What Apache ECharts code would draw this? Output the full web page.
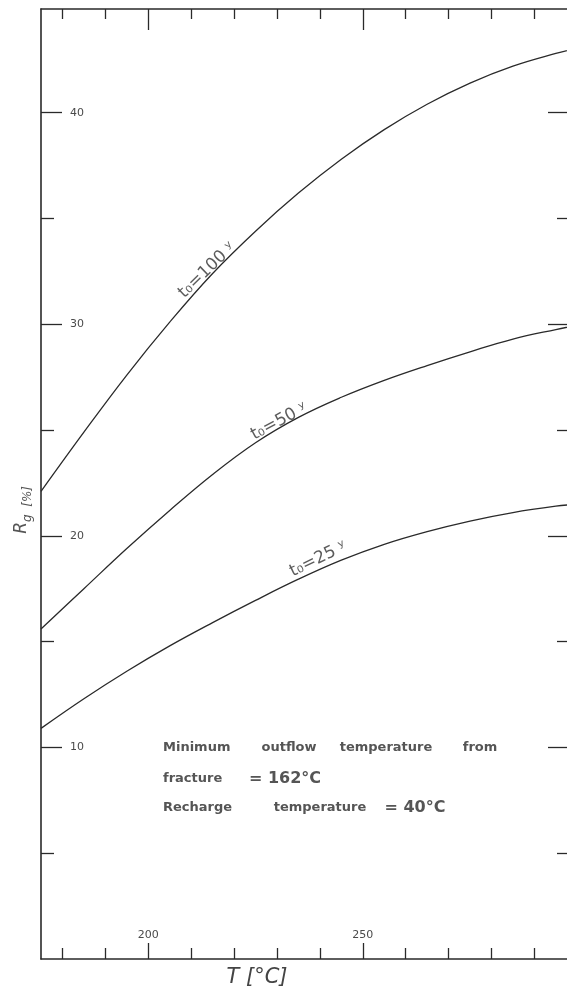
<!DOCTYPE html>
<html>
<head>
<meta charset="utf-8">
<script src="https://cdn.jsdelivr.net/npm/echarts@6/dist/echarts.min.js"></script>
<style>html,body{margin:0;padding:0;background:#fff}#c{width:567px;height:995px}</style>
</head>
<body>
<div id="c"></div>
<script>
// ---- data ----
const temps = [175, 185, 195, 205, 215, 225, 235, 245, 255, 265, 275, 285, 295, 300];
const rg100 = [22.1, 24.9, 27.6, 30.1, 32.4, 34.4, 36.2, 37.8, 39.2, 40.4, 41.4, 42.2, 42.8, 43.05];
const rg50  = [15.6, 17.5, 19.4, 21.2, 22.9, 24.4, 25.6, 26.55, 27.35, 28.05, 28.7, 29.3, 29.75, 29.95];
const rg25  = [10.9, 12.3, 13.6, 14.8, 15.9, 16.95, 17.95, 18.85, 19.6, 20.2, 20.7, 21.1, 21.4, 21.5];
const seriesNames = ['t0=100 y', 't0=50 y', 't0=25 y'];
const curveLabelText = ['t\u2080=100 \u02b8', 't\u2080=50 \u02b8', 't\u2080=25 \u02b8'];
const curveLabelPos = [[213.7, 32.55], [230.5, 25.4], [239.6, 18.9]];
const curveLabelAngle = [44, 28, 26];
const xRange = [175, 297.6];
const yRange = [0, 44.9];
const xMajorTicks = [200, 250];
const xMinorTicks = [180, 190, 210, 220, 230, 240, 260, 270, 280, 290];
const yMajorTicks = [10, 20, 30, 40];
const yMinorTicks = [5, 15, 25, 35];
const noteLines = [
  ['Minimum', 'outflow', 'temperature', 'from'],
  ['fracture', '= 162\u00b0C'],
  ['Recharge', 'temperature', '= 40\u00b0C']
];

const pairs = (ys) => temps.map((t, i) => [t, ys[i]]);
const lineColor = '#2a2a2a';
const textColor = '#4a4a4a';
const axisFont = 'DejaVu Sans';

function xAx(pos, ticks, len, showLine, labels) {
  return {
    type: 'value', position: pos, min: xRange[0], max: xRange[1],
    axisLine: { show: showLine, onZero: false, lineStyle: { color: lineColor, width: 1.5 } },
    axisTick: { show: true, inside: true, length: len, customValues: ticks, lineStyle: { color: lineColor, width: 1.3 } },
    axisLabel: labels ? { show: true, inside: true, margin: 18, customValues: labels, color: textColor, fontSize: 11, fontFamily: axisFont } : { show: false },
    splitLine: { show: false }
  };
}
function yAx(pos, ticks, len, showLine, labels) {
  return {
    type: 'value', position: pos, min: yRange[0], max: yRange[1],
    axisLine: { show: showLine, onZero: false, lineStyle: { color: lineColor, width: 1.6 } },
    axisTick: { show: true, inside: true, length: len, customValues: ticks, lineStyle: { color: lineColor, width: 1.3 } },
    axisLabel: labels ? { show: true, inside: true, margin: 29, customValues: labels, color: textColor, fontSize: 11, fontFamily: axisFont } : { show: false },
    splitLine: { show: false }
  };
}

const chart = echarts.init(document.getElementById('c'), null, { renderer: 'canvas' });

const series = [rg100, rg50, rg25].map((ys, i) => ({
  name: seriesNames[i], type: 'line', data: pairs(ys), smooth: 0.4,
  showSymbol: false, symbol: 'none', xAxisIndex: 0, yAxisIndex: 0, clip: true,
  lineStyle: { color: lineColor, width: 1.3 }, silent: true, z: 3
}));
series.push({
  type: 'scatter', xAxisIndex: 0, yAxisIndex: 0, symbolSize: 0, silent: true,
  data: curveLabelPos.map((p, i) => ({
    value: p,
    label: {
      show: true, position: 'inside', rotate: curveLabelAngle[i],
      formatter: curveLabelText[i], fontSize: 17, color: '#333', fontFamily: 'DejaVu Sans'
    }
  })),
  z: 4
});

const noteCx = [[163, 289, 386, 480], [163, 285], [163, 320, 415]];
const noteY = [748, 779, 808];
const graphics = [];
noteLines.forEach((words, r) => {
  words.forEach((w, k) => {
    const big = w.indexOf('\u00b0C') >= 0;
    graphics.push({
      type: 'text', x: noteCx[r][k], y: noteY[r],
      style: { text: w, fill: '#555', fontSize: big ? 16 : 13, fontWeight: 'bold', fontFamily: 'DejaVu Sans',
        align: k === 0 ? 'left' : 'center', verticalAlign: 'middle' }
    });
  });
});
graphics.push({
  type: 'text', x: 22, y: 522, rotation: Math.PI / 2,
  style: { text: 'R', fill: '#555', fontSize: 17, fontStyle: 'italic', fontFamily: 'DejaVu Sans', align: 'right', verticalAlign: 'middle' }
});
graphics.push({
  type: 'text', x: 22, y: 522, rotation: Math.PI / 2,
  style: { text: 'g  [%]', fill: '#555', fontSize: 12, fontStyle: 'italic', fontFamily: 'DejaVu Sans', align: 'left', verticalAlign: 'top' }
});
graphics.push({
  type: 'text', x: 257, y: 978,
  style: { text: 'T [\u00b0C]', fill: '#444', fontSize: 21, fontStyle: 'italic', fontFamily: 'DejaVu Sans', align: 'center', verticalAlign: 'middle' }
});

chart.setOption({
  animation: false,
  backgroundColor: '#fff',
  grid: { left: 41, top: 9, right: 0, bottom: 36, containLabel: false },
  xAxis: [
    xAx('bottom', xMinorTicks, 11, true, xMajorTicks),
    xAx('bottom', xMajorTicks, 16, false, null),
    xAx('top', xMinorTicks, 10, true, null),
    xAx('top', xMajorTicks, 21, false, null)
  ],
  yAxis: [
    yAx('left', yMinorTicks, 13, true, null),
    yAx('left', yMajorTicks, 21, false, yMajorTicks),
    yAx('right', yMinorTicks, 10, false, null),
    yAx('right', yMajorTicks, 19, false, null)
  ],
  series: series,
  graphic: graphics
});
</script>
</body>
</html>
